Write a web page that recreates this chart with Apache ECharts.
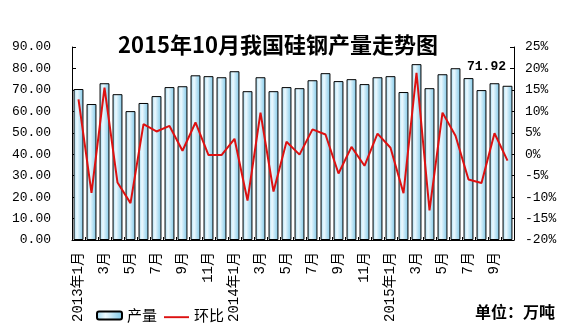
<!DOCTYPE html>
<html>
<head>
<meta charset="utf-8">
<script src="https://cdn.jsdelivr.net/npm/echarts@6/dist/echarts.min.js"></script>
<style>
  html, body { margin: 0; padding: 0; background: #fff; }
  #chart { width: 562px; height: 329px; }
</style>
</head>
<body>
<div id="chart"></div>
<script>
// Monthly silicon steel output (10k tonnes) and month-on-month change (%)
const months = [
  '2013年1月', '2月', '3月', '4月', '5月', '6月', '7月', '8月', '9月', '10月', '11月', '12月',
  '2014年1月', '2月', '3月', '4月', '5月', '6月', '7月', '8月', '9月', '10月', '11月', '12月',
  '2015年1月', '2月', '3月', '4月', '5月', '6月', '7月', '8月', '9月', '10月'
];
const output = [
  70.4, 63.4, 73.1, 68.0, 60.1, 63.9, 67.1, 71.3, 71.7, 76.8, 76.4, 75.9,
  78.7, 69.4, 75.9, 69.4, 71.3, 70.8, 74.5, 77.8, 74.1, 75.0, 72.7, 75.9,
  76.4, 69.0, 82.0, 70.8, 77.3, 80.1, 75.5, 69.9, 73.1, 71.92
];
const momChange = [
  12.8, -9.0, 15.5, -6.6, -11.4, 7.0, 5.3, 6.6, 0.8, 7.4, -0.2, -0.2,
  3.6, -10.8, 9.7, -8.7, 2.9, -0.1, 5.8, 4.6, -4.5, 1.7, -2.7, 4.8,
  1.5, -9.1, 19.0, -13.1, 9.7, 4.3, -5.9, -6.7, 4.9, -1.5
];
const leftTicks = { min: 0, max: 90, interval: 10 };
const rightTicks = { min: -20, max: 25, interval: 5 };

const monoFont = '"Liberation Mono", "Noto Sans CJK SC", monospace';
const cjkFont = '"Noto Sans CJK SC", sans-serif';

const barFill = {
  type: 'linear', x: 0, y: 0, x2: 1, y2: 0,
  colorStops: [
    { offset: 0, color: '#9dd7ef' },
    { offset: 0.35, color: '#eefaff' },
    { offset: 1, color: '#7cc6e7' }
  ]
};

const barData = output.map((v, i) => {
  if (i === output.length - 1) {
    return {
      value: v,
      label: {
        show: true, position: 'top', offset: [-21, -8],
        formatter: () => v.toFixed(2),
        fontFamily: monoFont, fontWeight: 'bold', fontSize: 13, color: '#000'
      }
    };
  }
  return v;
});

const chart = echarts.init(document.getElementById('chart'), null, { renderer: 'canvas' });
chart.setOption({
  animation: false,
  backgroundColor: '#fff',
  title: {
    text: '2015年10月我国硅钢产量走势图',
    left: 113, top: 29,
    textStyle: { fontFamily: cjkFont, fontSize: 22, fontWeight: 'bold', color: '#000' }
  },
  grid: { left: 72, right: 48, top: 47, bottom: 89, containLabel: false },
  legend: {
    left: 91, top: 303,
    itemWidth: 25, itemHeight: 8, itemGap: 7,
    textStyle: { fontFamily: cjkFont, fontSize: 15, color: '#000' },
    data: [
      { name: '产量' },
      { name: '环比', icon: 'path://M0,0M0,3.5L26,3.5L26,5.5L0,5.5Z', itemStyle: { color: '#dd1111' } }
    ]
  },
  graphic: [{
    type: 'text', right: 7, top: 304,
    style: { text: '单位：万吨', fontFamily: cjkFont, fontSize: 16, fontWeight: 'bold', fill: '#000' }
  }],
  xAxis: {
    type: 'category',
    data: months,
    boundaryGap: true,
    axisLine: { lineStyle: { color: '#000', width: 1 } },
    axisTick: { show: true, inside: true, length: 3, interval: 0, lineStyle: { color: '#000' } },
    axisLabel: {
      interval: 1, rotate: 90, margin: 12,
      fontFamily: monoFont, fontSize: 14, color: '#000'
    },
    splitLine: { show: false }
  },
  yAxis: [{
    type: 'value',
    min: leftTicks.min, max: leftTicks.max, interval: leftTicks.interval,
    axisLine: { show: true, lineStyle: { color: '#000' } },
    axisTick: { show: true, inside: true, length: 4, lineStyle: { color: '#000' } },
    axisLabel: {
      margin: 21, fontFamily: monoFont, fontSize: 13, color: '#000',
      formatter: v => v.toFixed(2)
    },
    splitLine: { show: false }
  }, {
    type: 'value',
    min: rightTicks.min, max: rightTicks.max, interval: rightTicks.interval,
    axisLine: { show: true, lineStyle: { color: '#000' } },
    axisTick: { show: true, inside: true, length: 4, lineStyle: { color: '#000' } },
    axisLabel: {
      margin: 11, fontFamily: monoFont, fontSize: 13, color: '#000',
      formatter: v => v + '%'
    },
    splitLine: { show: false }
  }],
  series: [{
    name: '产量',
    type: 'bar',
    data: barData,
    barCategoryGap: '24%',
    itemStyle: { color: barFill, borderColor: '#000', borderWidth: 1 }
  }, {
    name: '环比',
    type: 'line',
    yAxisIndex: 1,
    data: momChange,
    symbol: 'none',
    lineStyle: { color: '#dd1111', width: 2 },
    itemStyle: { color: '#dd1111' }
  }]
});
</script>
</body>
</html>
